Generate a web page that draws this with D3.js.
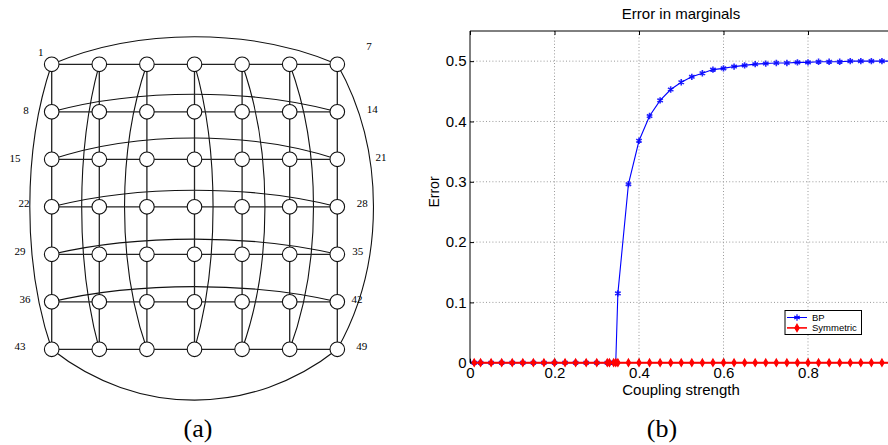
<!DOCTYPE html>
<html>
<head>
<meta charset="utf-8">
<script src="https://cdn.jsdelivr.net/npm/d3@7"></script>
<style>
  body { margin: 0; background: #fff; }
  svg { display: block; }
</style>
</head>
<body>
<div id="vis"></div>
<script>
// ---- data ----
// (a) 7x7 grid graph, node numbers 1..49, with wrap-around arcs per row and column
var gridCols = [0, 1, 2, 3, 4, 5, 6];
var gridRows = [0, 1, 2, 3, 4, 5, 6];
// arc bulge, in grid units (row: + = up, column: + = right)
var rowArc = [0.58, 0.37, 0.45, 0.35, 0.32, 0.32, -1.07];
var colArc = [-0.46, -0.37, -0.47, 0.39, 0.48, 0.50, 0.76];
var leftLabels = [1, 8, 15, 22, 29, 36, 43];
var rightLabels = [7, 14, 21, 28, 35, 42, 49];

// (b) error in marginals vs coupling strength
var coupling = [0.01, 0.025, 0.05, 0.075, 0.1, 0.125, 0.15, 0.175, 0.2, 0.225, 0.25, 0.275,
  0.3, 0.325, 0.33, 0.34, 0.345, 0.35, 0.375, 0.4, 0.425, 0.45, 0.475, 0.5, 0.525, 0.55,
  0.575, 0.6, 0.625, 0.65, 0.675, 0.7, 0.725, 0.75, 0.775, 0.8, 0.825, 0.85, 0.875, 0.9,
  0.925, 0.95, 0.975, 1.0];
var errBP = [0, 0, 0, 0, 0, 0, 0, 0, 0, 0, 0, 0,
  0, 0, 0, 0, 0, 0.115, 0.296, 0.368, 0.409, 0.435, 0.453, 0.465, 0.474, 0.480,
  0.486, 0.488, 0.491, 0.493, 0.495, 0.496, 0.497, 0.497, 0.498, 0.498, 0.499, 0.499, 0.499, 0.5,
  0.5, 0.5, 0.5, 0.5];
var errSym = coupling.map(function () { return 0; });
var xTicks = [0, 0.2, 0.4, 0.6, 0.8];
var yTicks = [0, 0.1, 0.2, 0.3, 0.4, 0.5];
var seriesNames = ["BP", "Symmetric"];

var w = 888, h = 445;
var svg = d3.select("#vis").append("svg")
  .attr("width", w).attr("height", h)
  .style("background-color", "#fff");

// ================= (a) graph =================
var gx = d3.scaleLinear().domain([0, 6]).range([51.7, 337.3]);
var gy = d3.scaleLinear().domain([0, 6]).range([64.3, 349.3]);
var unitX = gx(1) - gx(0), unitY = gy(1) - gy(0);
var ga = svg.append("g");

// row arcs: first node -> last node of each row
ga.selectAll("path.rowarc").data(gridRows).enter().append("path")
  .attr("class", "rowarc")
  .attr("d", function (r) {
    var x0 = gx(0), x1 = gx(6), y = gy(r);
    var cy = y - rowArc[r] * unitY / 0.75;
    var dw = (x1 - x0) * 0.3;
    return "M" + x0 + "," + y + " C" + (x0 + dw) + "," + cy + " " + (x1 - dw) + "," + cy + " " + x1 + "," + y;
  })
  .attr("fill", "none").attr("stroke", "#111").attr("stroke-width", 1.1);

// column arcs: top node -> bottom node of each column
ga.selectAll("path.colarc").data(gridCols).enter().append("path")
  .attr("class", "colarc")
  .attr("d", function (c) {
    var y0 = gy(0), y1 = gy(6), x = gx(c);
    var cx = x + colArc[c] * unitX / 0.75;
    var dh = (y1 - y0) * 0.3;
    return "M" + x + "," + y0 + " C" + cx + "," + (y0 + dh) + " " + cx + "," + (y1 - dh) + " " + x + "," + y1;
  })
  .attr("fill", "none").attr("stroke", "#111").attr("stroke-width", 1.1);

// grid edges
var edges = [];
gridRows.forEach(function (r) {
  gridCols.forEach(function (c) {
    if (c < 6) edges.push([c, r, c + 1, r]);
    if (r < 6) edges.push([c, r, c, r + 1]);
  });
});
ga.selectAll("line.edge").data(edges).enter().append("line")
  .attr("class", "edge")
  .attr("x1", d => gx(d[0])).attr("y1", d => gy(d[1]))
  .attr("x2", d => gx(d[2])).attr("y2", d => gy(d[3]))
  .attr("stroke", "#222").attr("stroke-width", 1.3);

// nodes
var nodes = [];
gridRows.forEach(function (r) {
  gridCols.forEach(function (c) { nodes.push({ r: r, c: c, id: r * 7 + c + 1 }); });
});
ga.selectAll("circle").data(nodes).enter().append("circle")
  .attr("cx", d => gx(d.c)).attr("cy", d => gy(d.r))
  .attr("r", 7.3)
  .attr("fill", "#fff").attr("stroke", "#111").attr("stroke-width", 1.1);

// node number labels (offsets in px from the node)
var leftOff = [[-11, -12.6], [-25.7, -2], [-36.7, -1.6], [-27.7, -3.7], [-31.7, -3.3], [-26.7, -2.7], [-31.7, -3.3]];
var rightOff = [[31.7, -18.3], [35, -3], [43.7, -2.3], [25, -4], [20.4, -3.3], [19.7, -2.7], [24.4, -3.3]];
ga.selectAll("text.ll").data(leftLabels).enter().append("text")
  .attr("class", "ll")
  .attr("x", (d, i) => gx(0) + leftOff[i][0])
  .attr("y", (d, i) => gy(i) + leftOff[i][1])
  .attr("dy", "0.35em")
  .attr("text-anchor", "middle")
  .style("font-family", "'Liberation Serif', 'DejaVu Serif', serif")
  .style("font-size", "11px")
  .text(d => d);
ga.selectAll("text.rl").data(rightLabels).enter().append("text")
  .attr("class", "rl")
  .attr("x", (d, i) => gx(6) + rightOff[i][0])
  .attr("y", (d, i) => gy(i) + rightOff[i][1])
  .attr("dy", "0.35em")
  .attr("text-anchor", "middle")
  .style("font-family", "'Liberation Serif', 'DejaVu Serif', serif")
  .style("font-size", "11px")
  .text(d => d);

svg.append("text")
  .attr("x", 198).attr("y", 437)
  .attr("text-anchor", "middle")
  .style("font-family", "'Liberation Serif', 'DejaVu Serif', serif")
  .style("font-size", "26px")
  .text("(a)");

// ================= (b) plot =================
var plotLeft = 470, plotTop = 31, plotBottom = 362.7;
var xScale = d3.scaleLinear().domain([0, 1]).range([plotLeft, plotLeft + 422.5]);
var yScale = d3.scaleLinear().domain([0, 0.55]).range([plotBottom, plotTop]);
var font = "'Liberation Sans', Arial, sans-serif";

var plot = svg.append("g");

// dotted grid
plot.selectAll("line.gx").data(xTicks.filter(d => d > 0)).enter().append("line")
  .attr("x1", d => xScale(d)).attr("x2", d => xScale(d))
  .attr("y1", plotTop).attr("y2", plotBottom)
  .attr("stroke", "#999").attr("stroke-width", 1).attr("stroke-dasharray", "1,2.2");
plot.selectAll("line.gy").data(yTicks.filter(d => d > 0)).enter().append("line")
  .attr("x1", plotLeft).attr("x2", w)
  .attr("y1", d => yScale(d)).attr("y2", d => yScale(d))
  .attr("stroke", "#999").attr("stroke-width", 1).attr("stroke-dasharray", "1,2.2");

// axes (ticks inward)
var fmt = d3.format("~g");
var xAxis = plot.append("g")
  .attr("transform", "translate(0," + plotBottom + ")")
  .call(d3.axisBottom(xScale).tickValues(xTicks).tickFormat(fmt).tickSize(-4).tickPadding(5));
var xAxisTop = plot.append("g")
  .attr("transform", "translate(0," + plotTop + ")")
  .call(d3.axisTop(xScale).tickValues(xTicks).tickFormat("").tickSize(-4));
var yAxis = plot.append("g")
  .attr("transform", "translate(" + plotLeft + ",0)")
  .call(d3.axisLeft(yScale).tickValues(yTicks).tickFormat(fmt).tickSize(-4).tickPadding(3.5));
[xAxis, xAxisTop, yAxis].forEach(function (a) {
  a.select(".domain").remove();
  a.selectAll("line").attr("stroke", "#000");
  a.selectAll("text").style("font-family", font).style("font-size", "15px").attr("fill", "#000");
});
// box lines
plot.append("line").attr("x1", plotLeft).attr("x2", w).attr("y1", plotTop).attr("y2", plotTop).attr("stroke", "#000");
plot.append("line").attr("x1", plotLeft).attr("x2", w).attr("y1", plotBottom).attr("y2", plotBottom).attr("stroke", "#000");
plot.append("line").attr("x1", plotLeft).attr("x2", plotLeft).attr("y1", plotTop).attr("y2", plotBottom).attr("stroke", "#000");

// BP line
var lineXY = d3.line().x((d, i) => xScale(coupling[i])).y(d => yScale(d));
plot.append("path").datum(errBP)
  .attr("d", lineXY)
  .attr("fill", "none").attr("stroke", "#0000ff").attr("stroke-width", 1.1);
var star = d3.symbol().type(d3.symbolAsterisk).size(28);
plot.selectAll("path.bp").data(errBP).enter().append("path")
  .attr("class", "bp")
  .attr("transform", (d, i) => "translate(" + xScale(coupling[i]) + "," + yScale(d) + ")")
  .attr("d", star)
  .attr("fill", "none").attr("stroke", "#0000ff").attr("stroke-width", 1.6)
  .attr("stroke-opacity", 0.85);

// Symmetric line
plot.append("path").datum(errSym)
  .attr("d", lineXY)
  .attr("fill", "none").attr("stroke", "#ff0000").attr("stroke-width", 2);
var diamond = d3.symbol().type(d3.symbolDiamond).size(16);
plot.selectAll("path.sym").data(errSym).enter().append("path")
  .attr("class", "sym")
  .attr("transform", (d, i) => "translate(" + xScale(coupling[i]) + "," + yScale(d) + ")")
  .attr("d", diamond)
  .attr("fill", "#ff0000").attr("stroke", "#ff0000").attr("stroke-width", 1.2);

// titles
svg.append("text").attr("x", 681).attr("y", 19)
  .attr("text-anchor", "middle")
  .style("font-family", font).style("font-size", "15px")
  .text("Error in marginals");
svg.append("text").attr("x", 681).attr("y", 395)
  .attr("text-anchor", "middle")
  .style("font-family", font).style("font-size", "15px")
  .text("Coupling strength");
svg.append("text")
  .attr("transform", "translate(439,192) rotate(-90)")
  .attr("text-anchor", "middle")
  .style("font-family", font).style("font-size", "14px")
  .text("Error");
svg.append("text")
  .attr("x", 662).attr("y", 437)
  .attr("text-anchor", "middle")
  .style("font-family", "'Liberation Serif', 'DejaVu Serif', serif")
  .style("font-size", "26px")
  .text("(b)");

// legend
var lg = svg.append("g").attr("transform", "translate(785,310.5)");
lg.append("rect").attr("width", 76.5).attr("height", 24)
  .attr("fill", "#fff").attr("stroke", "#000").attr("stroke-width", 1);
var lgColor = ["#0000ff", "#ff0000"];
var lgSym = [star, diamond];
seriesNames.forEach(function (name, i) {
  var yy = 7 + i * 10.4;
  lg.append("line").attr("x1", 2).attr("x2", 22).attr("y1", yy).attr("y2", yy)
    .attr("stroke", lgColor[i]).attr("stroke-width", i ? 1.6 : 1);
  lg.append("path").attr("transform", "translate(12," + yy + ")")
    .attr("d", lgSym[i])
    .attr("fill", i ? lgColor[i] : "none").attr("stroke", lgColor[i]).attr("stroke-width", 1.2);
  lg.append("text").attr("x", 27).attr("y", yy).attr("dy", "0.35em")
    .style("font-family", font).style("font-size", "9.5px")
    .text(name);
});
</script>
</body>
</html>
